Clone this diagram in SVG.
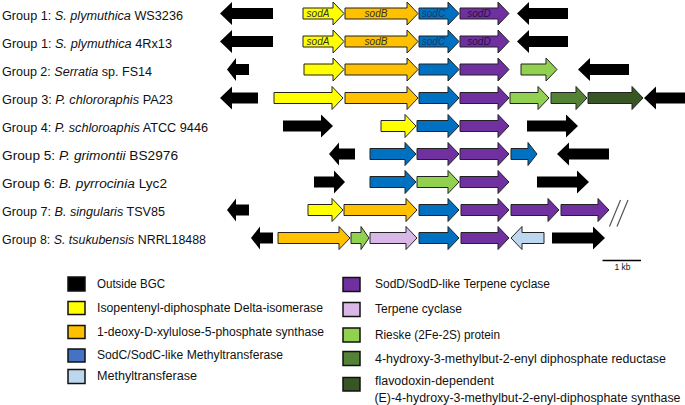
<svg xmlns="http://www.w3.org/2000/svg" width="685" height="405" viewBox="0 0 685 405">
<style>
.lbl{font-family:"Liberation Sans",Arial,sans-serif;font-size:12.5px;fill:#111}
.leg{font-family:"Liberation Sans",Arial,sans-serif;font-size:12px;fill:#111}
.gn{font-family:"Liberation Sans",Arial,sans-serif;font-size:10px;font-style:italic;text-anchor:middle}
.it{font-style:italic}
.a{stroke:#222;stroke-width:1;stroke-linejoin:miter}
.bk{fill:#000}
.ye{fill:#FFFF00}
.or{fill:#FFC000}
.bl{fill:#0070C0}
.pu{fill:#7030A0}
.lg{fill:#92D050}
.mg{fill:#548235}
.dg{fill:#375623}
.lb{fill:#BDD7EE}
.lv{fill:#D9B8E8}
.sq{stroke:#111;stroke-width:1.5}
</style>
<rect width="685" height="405" fill="#fff"/>
<g id="labels">
<text class="lbl" x="2" y="19.5" textLength="181" lengthAdjust="spacingAndGlyphs">Group 1: <tspan class="it">S. plymuthica</tspan> WS3236</text>
<text class="lbl" x="2" y="47.5" textLength="170" lengthAdjust="spacingAndGlyphs">Group 1: <tspan class="it">S. plymuthica</tspan> 4Rx13</text>
<text class="lbl" x="2" y="75.5" textLength="150" lengthAdjust="spacingAndGlyphs">Group 2: <tspan class="it">Serratia</tspan> sp. FS14</text>
<text class="lbl" x="2" y="104" textLength="171" lengthAdjust="spacingAndGlyphs">Group 3: <tspan class="it">P. chlororaphis</tspan> PA23</text>
<text class="lbl" x="2" y="132" textLength="206" lengthAdjust="spacingAndGlyphs">Group 4: <tspan class="it">P. schloroaphis</tspan> ATCC 9446</text>
<text class="lbl" x="2" y="160" textLength="176" lengthAdjust="spacingAndGlyphs">Group 5: <tspan class="it">P. grimontii</tspan> BS2976</text>
<text class="lbl" x="2" y="188" textLength="165" lengthAdjust="spacingAndGlyphs">Group 6: <tspan class="it">B. pyrrocinia</tspan> Lyc2</text>
<text class="lbl" x="2" y="216" textLength="163" lengthAdjust="spacingAndGlyphs">Group 7: <tspan class="it">B. singularis</tspan> TSV85</text>
<text class="lbl" x="2" y="244" textLength="204" lengthAdjust="spacingAndGlyphs">Group 8: <tspan class="it">S. tsukubensis</tspan> NRRL18488</text>
</g>
<g id="row1">
<path class="bk" d="M220 13.5 l12 -11.5 v6 h41 v11 h-41 v6 z"/>
<path class="a ye" d="M303 8 h30 v-6 l11 11.5 l-11 11.5 v-6 h-30 z"/>
<path class="a or" d="M345 8 h62 v-6 l11 11.5 l-11 11.5 v-6 h-62 z"/>
<path class="a bl" d="M419 8 h29 v-6 l11 11.5 l-11 11.5 v-6 h-29 z"/>
<path class="a pu" d="M460 8 h38 v-6 l11 11.5 l-11 11.5 v-6 h-38 z"/>
<path class="bk" d="M517 13.5 l12 -11.5 v6 h39 v11 h-39 v6 z"/>
<text class="gn" x="318" y="17" fill="#333">sodA</text>
<text class="gn" x="376" y="17" fill="#333">sodB</text>
<text class="gn" x="433.5" y="17" fill="#1F3864">sodC</text>
<text class="gn" x="479" y="17" fill="#2A1040">sodD</text>
</g>
<g id="row2">
<path class="bk" d="M220 41.5 l12 -11.5 v6 h41 v11 h-41 v6 z"/>
<path class="a ye" d="M303 36 h30 v-6 l11 11.5 l-11 11.5 v-6 h-30 z"/>
<path class="a or" d="M345 36 h62 v-6 l11 11.5 l-11 11.5 v-6 h-62 z"/>
<path class="a bl" d="M419 36 h29 v-6 l11 11.5 l-11 11.5 v-6 h-29 z"/>
<path class="a pu" d="M460 36 h38 v-6 l11 11.5 l-11 11.5 v-6 h-38 z"/>
<path class="bk" d="M517 41.5 l12 -11.5 v6 h39 v11 h-39 v6 z"/>
<text class="gn" x="318" y="45" fill="#333">sodA</text>
<text class="gn" x="376" y="45" fill="#333">sodB</text>
<text class="gn" x="433.5" y="45" fill="#1F3864">sodC</text>
<text class="gn" x="479" y="45" fill="#2A1040">sodD</text>
</g>
<g id="row3">
<path class="bk" d="M227 69.5 l9 -11.5 v6 h13 v11 h-13 v6 z"/>
<path class="a ye" d="M304 64 h29 v-6 l11 11.5 l-11 11.5 v-6 h-29 z"/>
<path class="a or" d="M345 64 h62 v-6 l11 11.5 l-11 11.5 v-6 h-62 z"/>
<path class="a bl" d="M419 64 h29 v-6 l11 11.5 l-11 11.5 v-6 h-29 z"/>
<path class="a pu" d="M460 64 h38 v-6 l11 11.5 l-11 11.5 v-6 h-38 z"/>
<path class="a lg" d="M521 64 h25 v-6 l11 11.5 l-11 11.5 v-6 h-25 z"/>
<path class="bk" d="M578 69.5 l12 -11.5 v6 h39 v11 h-39 v6 z"/>
</g>
<g id="row4">
<path class="bk" d="M220 98 l12 -11.5 v6 h26 v11 h-26 v6 z"/>
<path class="a ye" d="M274 92.5 h58 v-6 l11 11.5 l-11 11.5 v-6 h-58 z"/>
<path class="a or" d="M345 92.5 h62 v-6 l11 11.5 l-11 11.5 v-6 h-62 z"/>
<path class="a bl" d="M419 92.5 h29 v-6 l11 11.5 l-11 11.5 v-6 h-29 z"/>
<path class="a pu" d="M460 92.5 h38 v-6 l11 11.5 l-11 11.5 v-6 h-38 z"/>
<path class="a lg" d="M510 92.5 h28 v-6 l11 11.5 l-11 11.5 v-6 h-28 z"/>
<path class="a mg" d="M551 92.5 h25 v-6 l11 11.5 l-11 11.5 v-6 h-25 z"/>
<path class="a dg" d="M588 92.5 h44 v-6 l11 11.5 l-11 11.5 v-6 h-44 z"/>
<path class="bk" d="M644 98 l12 -11.5 v6 h29 v11 h-29 v6 z"/>
</g>
<g id="row5">
<path class="bk" d="M283 120.5 h38 v-6 l12 11.5 l-12 11.5 v-6 h-38 z"/>
<path class="a ye" d="M381 120.5 h24 v-6 l11 11.5 l-11 11.5 v-6 h-24 z"/>
<path class="a bl" d="M417 120.5 h31 v-6 l11 11.5 l-11 11.5 v-6 h-31 z"/>
<path class="a pu" d="M460 120.5 h38 v-6 l11 11.5 l-11 11.5 v-6 h-38 z"/>
<path class="bk" d="M527 120.5 h39 v-6 l12 11.5 l-12 11.5 v-6 h-39 z"/>
</g>
<g id="row6">
<path class="bk" d="M329 154 l10 -11.5 v6 h16 v11 h-16 v6 z"/>
<path class="a bl" d="M370 148.5 h35 v-6 l11 11.5 l-11 11.5 v-6 h-35 z"/>
<path class="a pu" d="M417 148.5 h31 v-6 l11 11.5 l-11 11.5 v-6 h-31 z"/>
<path class="a pu" d="M460 148.5 h38 v-6 l11 11.5 l-11 11.5 v-6 h-38 z"/>
<path class="a bl" d="M511 148.5 h17 v-6 l9 11.5 l-9 11.5 v-6 h-17 z"/>
<path class="bk" d="M557 154 l12 -11.5 v6 h40 v11 h-40 v6 z"/>
</g>
<g id="row7">
<path class="bk" d="M314 176.5 h20 v-6 l11 11.5 l-11 11.5 v-6 h-20 z"/>
<path class="a bl" d="M370 176.5 h35 v-6 l11 11.5 l-11 11.5 v-6 h-35 z"/>
<path class="a lg" d="M417 176.5 h31 v-6 l11 11.5 l-11 11.5 v-6 h-31 z"/>
<path class="a pu" d="M460 176.5 h38 v-6 l11 11.5 l-11 11.5 v-6 h-38 z"/>
<path class="bk" d="M537 176.5 h40 v-6 l12 11.5 l-12 11.5 v-6 h-40 z"/>
</g>
<g id="row8">
<path class="bk" d="M227 210 l9 -11.5 v6 h13 v11 h-13 v6 z"/>
<path class="a ye" d="M308 204.5 h24 v-6 l11 11.5 l-11 11.5 v-6 h-24 z"/>
<path class="a or" d="M344 204.5 h62 v-6 l11 11.5 l-11 11.5 v-6 h-62 z"/>
<path class="a bl" d="M419 204.5 h29 v-6 l11 11.5 l-11 11.5 v-6 h-29 z"/>
<path class="a pu" d="M461 204.5 h37 v-6 l11 11.5 l-11 11.5 v-6 h-37 z"/>
<path class="a pu" d="M511 204.5 h37 v-6 l11 11.5 l-11 11.5 v-6 h-37 z"/>
<path class="a pu" d="M561 204.5 h37 v-6 l11 11.5 l-11 11.5 v-6 h-37 z"/>
<path d="M609.5 226.5 L620.5 200 M617 226.5 L628 200" stroke="#555" stroke-width="1.2" fill="none"/>
</g>
<g id="row9">
<path class="bk" d="M251 238 l9 -11.5 v6 h13 v11 h-13 v6 z"/>
<path class="a or" d="M278 232.5 h61 v-6 l11 11.5 l-11 11.5 v-6 h-61 z"/>
<path class="a lg" d="M351 232.5 h10 v-6 l8 11.5 l-8 11.5 v-6 h-10 z"/>
<path class="a lv" d="M370 232.5 h36 v-6 l11 11.5 l-11 11.5 v-6 h-36 z"/>
<path class="a bl" d="M419 232.5 h29 v-6 l11 11.5 l-11 11.5 v-6 h-29 z"/>
<path class="a pu" d="M461 232.5 h37 v-6 l11 11.5 l-11 11.5 v-6 h-37 z"/>
<path class="a lb" d="M511 238 l11 -11.5 v6 h22 v11 h-22 v6 z"/>
<path class="bk" d="M552 232.5 h41 v-6 l12 11.5 l-12 11.5 v-6 h-41 z"/>
</g>
<g id="scale">
<line x1="602.5" y1="260.5" x2="641" y2="260.5" stroke="#000" stroke-width="1.5"/>
<text x="622.5" y="270" font-family="Liberation Sans, Arial, sans-serif" font-size="8.5" text-anchor="middle" fill="#111">1 kb</text>
</g>
<g id="legend">
<rect class="sq bk" x="68" y="277" width="17" height="14"/>
<text class="leg" x="97" y="288" textLength="68" lengthAdjust="spacingAndGlyphs">Outside BGC</text>
<rect class="sq ye" x="68" y="301.5" width="17" height="13"/>
<text class="leg" x="97" y="312" textLength="226" lengthAdjust="spacingAndGlyphs">Isopentenyl-diphosphate Delta-isomerase</text>
<rect class="sq or" x="68" y="325.5" width="17" height="13"/>
<text class="leg" x="97" y="336" textLength="227" lengthAdjust="spacingAndGlyphs">1-deoxy-D-xylulose-5-phosphate synthase</text>
<rect class="sq" fill="#4472C4" x="68" y="349" width="17" height="13"/>
<text class="leg" x="97" y="359" textLength="186" lengthAdjust="spacingAndGlyphs">SodC/SodC-like Methyltransferase</text>
<rect class="sq lb" x="68" y="369.5" width="17" height="14"/>
<text class="leg" x="97" y="379.5" textLength="100" lengthAdjust="spacingAndGlyphs">Methyltransferase</text>
<rect class="sq pu" x="343" y="277.5" width="17" height="14"/>
<text class="leg" x="375" y="288" textLength="175" lengthAdjust="spacingAndGlyphs">SodD/SodD-like Terpene cyclase</text>
<rect class="sq lv" x="343" y="302.5" width="17" height="14"/>
<text class="leg" x="375" y="312.5" textLength="87" lengthAdjust="spacingAndGlyphs">Terpene cyclase</text>
<rect class="sq lg" x="343" y="328" width="17" height="14"/>
<text class="leg" x="375" y="338.5" textLength="125" lengthAdjust="spacingAndGlyphs">Rieske (2Fe-2S) protein</text>
<rect class="sq mg" x="343" y="351.5" width="17" height="14"/>
<text class="leg" x="375" y="362.5" textLength="291" lengthAdjust="spacingAndGlyphs">4-hydroxy-3-methylbut-2-enyl diphosphate reductase</text>
<rect class="sq dg" x="343" y="377.5" width="17" height="13.5"/>
<text class="leg" x="375" y="385" textLength="119" lengthAdjust="spacingAndGlyphs">flavodoxin-dependent</text>
<text class="leg" x="374.5" y="401.5" textLength="306" lengthAdjust="spacingAndGlyphs">(E)-4-hydroxy-3-methylbut-2-enyl-diphosphate synthase</text>
</g>
</svg>
